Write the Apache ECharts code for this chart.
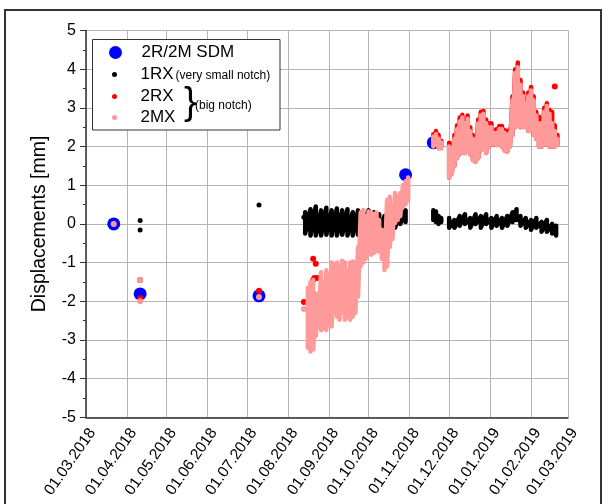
<!DOCTYPE html>
<html>
<head>
<meta charset="utf-8">
<script src="https://cdn.jsdelivr.net/npm/echarts@6/dist/echarts.min.js"></script>
<style>
  html, body { margin: 0; padding: 0; background: #fff; }
  #chart { width: 605px; height: 504px; }
</style>
</head>
<body>
<div id="chart"></div>
<script>
// ---- survey readings (2R/2M SDM) ----
const sdmDates  = ['2018-03-22', '2018-04-11', '2018-07-10', '2018-10-29', '2018-11-19'];
const sdmValues = [0.0, -1.81, -1.86, 1.27, 2.1];

// ---- isolated sensor readings ----
const rx1SpotDates  = ['2018-04-11', '2018-04-11', '2018-07-10', '2018-08-13'];
const rx1SpotValues = [0.09, -0.16, 0.49, 0.17];
const rx2SpotDates  = ['2018-04-11', '2018-04-11', '2018-07-10', '2018-08-13', '2018-08-20', '2018-08-22', '2018-08-20', '2018-08-21', '2018-08-23'];
const rx2SpotValues = [-1.45, -1.92, -1.73, -2.02, -0.9, -1.03, -1.45, -1.4, -1.4];
const mx2SpotDates  = ['2018-03-22', '2018-04-11', '2018-04-11', '2018-07-10', '2018-08-13'];
const mx2SpotValues = [0.0, -1.45, -2.0, -1.89, -2.2];

// ---- 1RX continuous record: daily high / low ----
const rx1AutDates = ['2018-08-14','2018-08-18','2018-08-22','2018-08-26','2018-08-30','2018-09-03','2018-09-07','2018-09-11','2018-09-15','2018-09-19','2018-09-23','2018-09-27','2018-10-01','2018-10-05','2018-10-09','2018-10-13','2018-10-17','2018-10-21','2018-10-25','2018-10-29'];
const rx1AutHigh  = [0.3, 0.38, 0.45, 0.35, 0.42, 0.35, 0.4, 0.35, 0.38, 0.3, 0.35, 0.3, 0.35, 0.3, 0.25, 0.2, 0.15, 0.2, 0.3, 0.35];
const rx1AutLow   = [-0.25, -0.3, -0.3, -0.3, -0.28, -0.3, -0.3, -0.28, -0.3, -0.3, -0.28, -0.25, -0.3, -0.25, -0.3, -0.45, -0.4, -0.1, 0.0, 0.05];

const rx1WinDates = ['2018-11-19','2018-11-21','2018-11-23','2018-11-25'];
const rx1WinHigh  = [0.35, 0.32, 0.2, 0.15];
const rx1WinLow   = [0.1, 0.05, 0.0, 0.05];

const rx1LateDates = ['2018-12-01','2018-12-05','2018-12-09','2018-12-13','2018-12-17','2018-12-21','2018-12-25','2018-12-29','2019-01-02','2019-01-06','2019-01-10','2019-01-14','2019-01-18','2019-01-21','2019-01-24','2019-01-28','2019-02-01','2019-02-05','2019-02-09','2019-02-13','2019-02-17','2019-02-20'];
const rx1LateHigh  = [0.15, 0.1, 0.2, 0.25, 0.15, 0.25, 0.2, 0.25, 0.15, 0.2, 0.15, 0.2, 0.3, 0.38, 0.2, 0.15, 0.1, 0.15, 0.05, 0.1, 0.0, -0.05];
const rx1LateLow   = [-0.1, -0.1, -0.05, 0.0, -0.1, 0.0, -0.1, 0.0, -0.1, -0.05, -0.1, -0.05, 0.05, 0.1, -0.05, -0.1, -0.15, -0.1, -0.2, -0.2, -0.25, -0.3];

// ---- 2MX continuous record: daily high / low ----
const mx2AutDates = ['2018-08-16','2018-08-18','2018-08-20','2018-08-22','2018-08-24','2018-08-26','2018-08-28','2018-08-30','2018-09-01','2018-09-03','2018-09-05','2018-09-07','2018-09-09','2018-09-11','2018-09-13','2018-09-15','2018-09-17','2018-09-19','2018-09-21','2018-09-23','2018-09-25','2018-09-27','2018-09-29','2018-10-01','2018-10-03','2018-10-05','2018-10-07','2018-10-09','2018-10-11','2018-10-13','2018-10-15','2018-10-17','2018-10-19','2018-10-21','2018-10-23','2018-10-25','2018-10-27','2018-10-29','2018-10-31'];
const mx2AutHigh  = [-1.65, -1.5, -1.45, -1.8, -1.8, -1.25, -1.5, -1.2, -1.3, -1.0, -1.05, -1.0, -1.1, -0.95, -1.0, -1.2, -1.0, -0.97, -1.0, -0.6, 0.3, 0.36, 0.2, 0.32, 0.3, 0.25, 0.3, 0.1, -0.15, -0.3, 0.62, 0.7, 0.5, 0.8, 0.7, 0.8, 1.0, 1.1, 1.2];
const mx2AutLow   = [-3.2, -3.3, -3.25, -2.9, -2.65, -2.75, -2.7, -2.74, -2.6, -2.65, -2.3, -2.4, -2.48, -2.3, -2.48, -2.4, -2.48, -2.4, -2.3, -1.88, -1.1, -1.0, -0.9, -0.75, -0.8, -0.75, -0.7, -0.72, -0.9, -1.19, -1.1, -0.6, -0.4, 0.02, 0.1, 0.2, 0.45, 0.5, 0.6];

const mx2WinDates = ['2018-11-19','2018-11-21','2018-11-23','2018-11-25'];
const mx2WinHigh  = [2.25, 2.32, 2.2, 2.1];
const mx2WinLow   = [2.0, 2.05, 1.95, 1.95];

const mx2LateDates = ['2018-12-01','2018-12-03','2018-12-05','2018-12-07','2018-12-09','2018-12-11','2018-12-13','2018-12-15','2018-12-17','2018-12-19','2018-12-21','2018-12-23','2018-12-25','2018-12-27','2018-12-29','2018-12-31','2019-01-02','2019-01-04','2019-01-06','2019-01-08','2019-01-10','2019-01-12','2019-01-14','2019-01-16','2019-01-18','2019-01-20','2019-01-22','2019-01-24','2019-01-26','2019-01-28','2019-01-30','2019-02-01','2019-02-03','2019-02-05','2019-02-07','2019-02-09','2019-02-11','2019-02-13','2019-02-15','2019-02-17','2019-02-19','2019-02-21'];
const mx2LateHigh  = [2.0, 1.95, 2.2, 2.45, 2.65, 2.75, 2.6, 2.72, 2.4, 2.2, 2.15, 2.6, 2.8, 2.85, 2.6, 2.5, 2.5, 2.35, 2.35, 2.45, 2.45, 2.35, 2.3, 2.35, 3.2, 3.9, 4.05, 3.6, 3.3, 3.1, 3.3, 3.45, 3.2, 2.8, 2.6, 2.6, 2.9, 3.05, 2.85, 2.6, 2.4, 2.2];
const mx2LateLow   = [1.2, 1.3, 1.5, 1.7, 1.8, 1.85, 1.83, 1.9, 1.8, 1.65, 1.61, 1.7, 1.9, 1.95, 1.83, 2.0, 2.05, 2.05, 2.04, 2.1, 2.0, 1.9, 1.87, 2.0, 2.3, 2.5, 2.55, 2.5, 2.51, 2.5, 2.4, 2.43, 2.3, 2.2, 2.0, 2.0, 2.05, 2.05, 2.0, 2.0, 2.0, 2.05];

// ---- 2RX continuous record (upper envelope shows above 2MX) ----
const rx2WinDates = mx2WinDates;
const rx2WinHigh  = [2.32, 2.4, 2.3, 2.15];
const rx2WinLow   = [2.05, 2.1, 2.0, 2.0];
const rx2LateDates = mx2LateDates;
const rx2LateHigh  = [2.1, 2.05, 2.3, 2.55, 2.75, 2.82, 2.7, 2.8, 2.5, 2.3, 2.26, 2.7, 2.9, 2.92, 2.7, 2.6, 2.6, 2.43, 2.45, 2.53, 2.53, 2.43, 2.4, 2.45, 3.3, 4.0, 4.17, 3.72, 3.4, 3.23, 3.4, 3.54, 3.3, 2.9, 2.77, 2.7, 3.0, 3.12, 2.95, 2.9, 2.55, 2.3];
const rx2LateLow   = mx2LateLow;
const rx2LateSpotDates = ['2019-02-19'];
const rx2LateSpotValues = [3.55];

// colours
const C_SDM = '#0000ff', C_1RX = '#000000', C_2RX = '#ff0000', C_2MX = '#ff9a9a';

function pairs(dates, values) {
  return dates.map((d, i) => [d, values[i]]);
}
// daily high/low readings joined in time order
function band(dates, hi, lo) {
  const out = [];
  dates.forEach((d, i) => { out.push([d, hi[i]]); out.push([d, lo[i]]); });
  return out;
}

function bandSeries(name, color, data, z) {
  return {
    name, type: 'line', data, z,
    showSymbol: false, symbol: 'none',
    lineStyle: { color, width: 4.5, cap: 'round', join: 'round' },
    itemStyle: { color },
    animation: false, silent: true
  };
}
function dotSeries(name, color, data, size, z) {
  return {
    name, type: 'scatter', data, z, symbolSize: size,
    itemStyle: { color, opacity: 1 }, animation: false, silent: true
  };
}

const chart = echarts.init(document.getElementById('chart'), null, { renderer: 'canvas' });

const fmt = v => {
  const d = new Date(v);
  const p = n => (n < 10 ? '0' : '') + n;
  return p(d.getDate()) + '.' + p(d.getMonth() + 1) + '.' + d.getFullYear();
};

const FONT = 'Liberation Sans';
const legendBase = {
  orient: 'vertical', padding: 0, itemGap: 0, z: 20,
  itemWidth: 42, selectedMode: false,
  textStyle: { fontFamily: FONT, fontSize: 17, color: '#000' }
};

chart.setOption({
  animation: false,
  backgroundColor: '#fff',
  grid: { left: 86, right: 37, top: 30.5, bottom: 86.7, containLabel: false },
  xAxis: {
    type: 'time',
    min: '2018-03-01', max: '2019-03-01',
    splitNumber: 12,
    minInterval: 28 * 86400000,
    maxInterval: 31 * 86400000,
    axisLine: { show: true, onZero: false, lineStyle: { color: '#333', width: 1.5 } },
    axisTick: { show: false },
    splitLine: { show: true, lineStyle: { color: '#b4b4b4', width: 1 } },
    axisLabel: {
      rotate: 55, margin: 8, formatter: fmt, hideOverlap: false,
      verticalAlign: 'top',
      fontFamily: FONT, fontSize: 15.5, color: '#000',
      showMinLabel: true, showMaxLabel: true
    }
  },
  yAxis: {
    type: 'value', min: -5, max: 5, interval: 1,
    name: 'Displacements [mm]', nameLocation: 'middle', nameGap: 36,
    nameTextStyle: { fontFamily: FONT, fontSize: 19.5, color: '#000' },
    axisLine: { show: true, lineStyle: { color: '#333', width: 1.5 } },
    axisTick: { show: true, inside: false, length: 6, lineStyle: { color: '#333' } },
    minorTick: { show: true, splitNumber: 2, length: 3, lineStyle: { color: '#333' } },
    splitLine: { show: true, lineStyle: { color: '#b4b4b4', width: 1 } },
    axisLabel: { margin: 10, fontFamily: FONT, fontSize: 16, color: '#000' }
  },
  legend: [
    Object.assign({}, legendBase, {
      left: 109, top: 44, itemHeight: 13,
      data: [{ name: '2R/2M SDM', icon: 'circle', itemStyle: { color: C_SDM } }]
    }),
    Object.assign({}, legendBase, {
      left: 112, top: 66, itemHeight: 5,
      formatter: () => '{a|1RX}{b|(very small notch)}',
      textStyle: Object.assign({}, legendBase.textStyle, {
        rich: {
          a: { fontFamily: FONT, fontSize: 17, color: '#000' },
          b: { fontFamily: FONT, fontSize: 12, color: '#000', padding: [3, 0, 0, 2] }
        }
      }),
      data: [{ name: '1RX', icon: 'circle', itemStyle: { color: C_1RX } }]
    }),
    Object.assign({}, legendBase, {
      left: 112, top: 88, itemHeight: 5,
      data: [{ name: '2RX', icon: 'circle', itemStyle: { color: C_2RX } }]
    }),
    Object.assign({}, legendBase, {
      left: 112, top: 109, itemHeight: 5,
      data: [{ name: '2MX', icon: 'circle', itemStyle: { color: C_2MX } }]
    })
  ],
  graphic: [
    { type: 'rect', z: -10, shape: { x: 5, y: 10, width: 596, height: 600 },
      style: { fill: null, stroke: '#333', lineWidth: 2 } },
    { type: 'rect', z: 1, shape: { x: 92.5, y: 39.5, width: 187.5, height: 90.5 },
      style: { fill: '#fff', stroke: '#333', lineWidth: 1 } },
    { type: 'text', z: 30, x: 184, y: 85,
      style: { text: '}', fontFamily: FONT, fontSize: 38, fill: '#000' } },
    { type: 'text', z: 30, x: 195, y: 100,
      style: { text: '(big notch)', fontFamily: FONT, fontSize: 12, fill: '#000' } }
  ],
  series: [
    dotSeries('2R/2M SDM', C_SDM, pairs(sdmDates, sdmValues), 13, 2),
    dotSeries('1RX', C_1RX, pairs(rx1SpotDates, rx1SpotValues), 5, 3),
    bandSeries('1RX', C_1RX, band(rx1AutDates, rx1AutHigh, rx1AutLow), 3),
    bandSeries('1RX', C_1RX, band(rx1WinDates, rx1WinHigh, rx1WinLow), 3),
    bandSeries('1RX', C_1RX, band(rx1LateDates, rx1LateHigh, rx1LateLow), 3),
    dotSeries('2RX', C_2RX, pairs(rx2SpotDates, rx2SpotValues), 6, 4),
    dotSeries('2RX', C_2RX, pairs(rx2LateSpotDates, rx2LateSpotValues), 6, 4),
    bandSeries('2RX', C_2RX, band(rx2WinDates, rx2WinHigh, rx2WinLow), 4),
    bandSeries('2RX', C_2RX, band(rx2LateDates, rx2LateHigh, rx2LateLow), 4),
    dotSeries('2MX', C_2MX, pairs(mx2SpotDates, mx2SpotValues), 6, 5),
    bandSeries('2MX', C_2MX, band(mx2AutDates, mx2AutHigh, mx2AutLow), 5),
    bandSeries('2MX', C_2MX, band(mx2WinDates, mx2WinHigh, mx2WinLow), 5),
    bandSeries('2MX', C_2MX, band(mx2LateDates, mx2LateHigh, mx2LateLow), 5)
  ]
});
</script>
</body>
</html>
